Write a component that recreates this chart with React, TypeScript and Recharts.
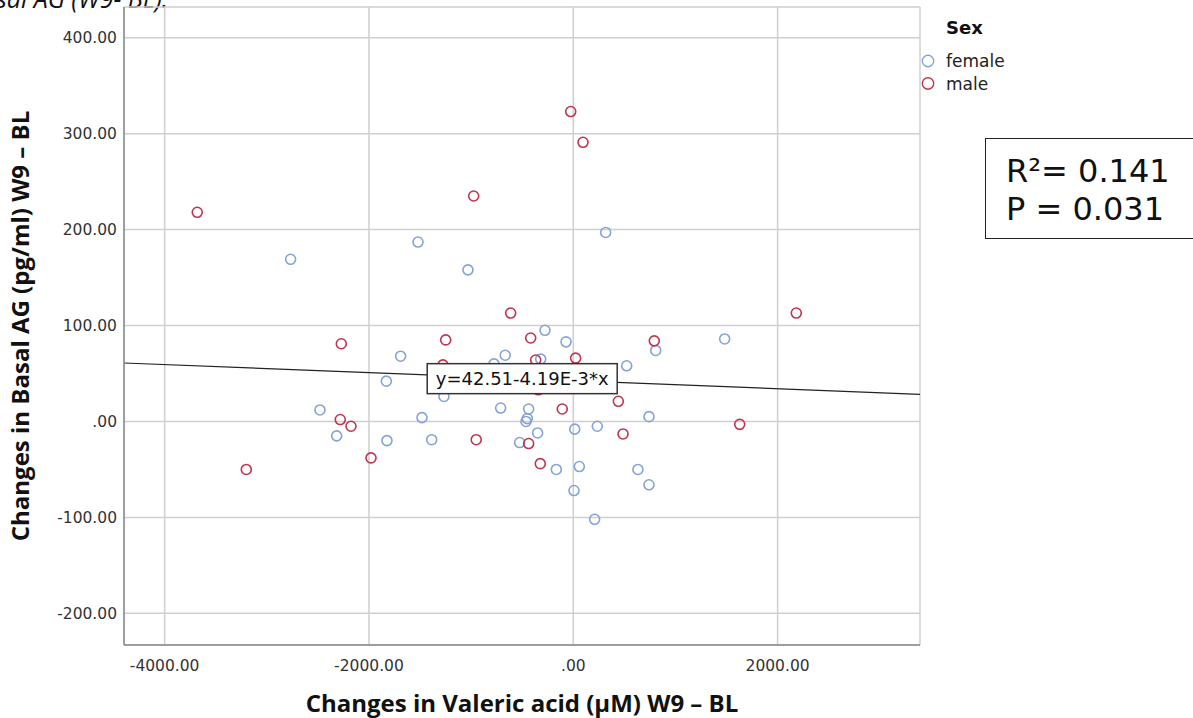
import {
  ReferenceDot,
  ReferenceLine,
  Scatter,
  ScatterChart,
  CartesianGrid,
  Label,
  XAxis,
  YAxis
} from "recharts";

const femaleX = [-2767, -1520, -1031, 317, 1482, -277, -71, 807, -1690, -666, -776, -319, 523, -1830, -1266, -2480, -711, -437, -1481, 741, -450, -463, -2316, -1824, -1386, -525, 14, 235, -349, -166, 59, 633, 741, 7, 209];
const femaleY = [169, 187, 158, 197, 86, 95, 83, 74, 68, 69, 60, 65, 58, 42, 26, 12, 14, 13, 4, 5, 3, 0, -15, -20, -19, -22, -8, -5, -12, -50, -47, -50, -66, -72, -102];

const maleX = [-3681, -975, -25, 95, -613, 2183, -2271, -1249, -417, 793, -368, 23, -1276, -343, 441, -108, -2281, -2176, 1629, 487, -950, -437, -323, -1980, -3201];
const maleY = [218, 235, 323, 291, 113, 113, 81, 85, 87, 84, 64, 66, 59, 33, 21, 13, 2, -5, -3, -13, -19, -23, -44, -38, -50];

const xTicks = [-4000, -2000, 0, 2000];
const yTicks = [-200, -100, 0, 100, 200, 300, 400];
const xDomain = [-4398, 3394];
const yDomain = [-233, 432];

// fit line from the chart's own label
const intercept = 42.51;
const slope = -4.19e-3;
const fitLabel = "y=42.51-4.19E-3*x";
const fitLabelAt = -500;

const sexes = ["female", "male"];
const colors = ["#86a3d6", "#c0344f"];

const female = femaleX.map((x, i) => ({ x, y: femaleY[i] }));
const male = maleX.map((x, i) => ({ x, y: maleY[i] }));

function tickText(v: number) {
  return v === 0 ? ".00" : v.toFixed(2);
}

function ring(color: string) {
  return (props: any) => (
    <circle cx={props.cx} cy={props.cy} r={5} fill="none" stroke={color} strokeWidth={1.6} />
  );
}

function LegendBox() {
  return (
    <svg width={120} height={100} style={{ position: "absolute", left: 910, top: 0 }}>
      <text x={36} y={34} fontSize={18} fontWeight={700} fill="#111">Sex</text>
      {sexes.map((s, i) => (
        <g key={s}>
          <circle cx={18} cy={61 + i * 22.5} r={5.7} fill="none" stroke={colors[i]} strokeWidth={1.4} />
          <text x={36} y={67 + i * 22.5} fontSize={17} fill="#222">{s}</text>
        </g>
      ))}
    </svg>
  );
}

function FitTag(props: any) {
  const w = 190;
  const h = 30;
  return (
    <g>
      <rect x={props.cx - w / 2} y={props.cy - h / 2} width={w} height={h} fill="#fff" stroke="#333" strokeWidth={1.5} />
      <text x={props.cx} y={props.cy + 6.5} textAnchor="middle" fontSize={18} fill="#111">{fitLabel}</text>
    </g>
  );
}

export default function App() {
  const font = "'DejaVu Sans', Verdana, sans-serif";
  return (
    <div style={{ position: "absolute", left: 0, top: 0, width: 1193, height: 718, background: "#fff", overflow: "hidden", fontFamily: font }}>
      <svg width={260} height={14} style={{ position: "absolute", left: 0, top: 0 }}>
        <text x={-4} y={8} fontSize={25} fontStyle="italic" fontFamily="'Open Sans', sans-serif" fill="#111">sal AG (W9- BL).</text>
      </svg>

      <ScatterChart width={1193} height={718} margin={{ top: 7, right: 273, bottom: 43, left: 14 }} style={{ fontFamily: font }}>
        <CartesianGrid stroke="#cfcfcf" strokeWidth={1.5} />
        <XAxis
          type="number"
          dataKey="x"
          domain={xDomain}
          ticks={xTicks}
          tickFormatter={tickText}
          allowDataOverflow
          height={30}
          tickLine={false}
          tickMargin={9}
          axisLine={{ stroke: "#8a8a8a", strokeWidth: 1.5 }}
          tick={{ fontSize: 15.5, fill: "#333" }}
        >
          <Label
            content={(p: any) => (
              <text x={p.viewBox.x + p.viewBox.width / 2} y={712} textAnchor="middle" fontSize={24} fontWeight={700} fontFamily="'Open Sans', sans-serif" fill="#111">
                Changes in Valeric acid (µM) W9 – BL
              </text>
            )}
          />
        </XAxis>
        <YAxis
          type="number"
          dataKey="y"
          domain={yDomain}
          ticks={yTicks}
          tickFormatter={tickText}
          allowDataOverflow
          width={110}
          tickLine={false}
          tickMargin={1}
          axisLine={{ stroke: "#8a8a8a", strokeWidth: 1.5 }}
          tick={{ fontSize: 15.5, fill: "#333" }}
        >
          <Label
            content={(p: any) => {
              const cy = p.viewBox.y + p.viewBox.height / 2;
              return (
                <text x={29} y={cy} transform={`rotate(-90, 29, ${cy})`} textAnchor="middle" fontSize={24} fontWeight={700} fontFamily="'Open Sans', sans-serif" fill="#111">
                  Changes in Basal AG (pg/ml) W9 – BL
                </text>
              );
            }}
          />
        </YAxis>
        <Scatter name="female" data={female} shape={ring(colors[0])} isAnimationActive={false} />
        <Scatter name="male" data={male} shape={ring(colors[1])} isAnimationActive={false} />
        <ReferenceLine
          segment={[
            { x: xDomain[0], y: intercept + slope * xDomain[0] },
            { x: xDomain[1], y: intercept + slope * xDomain[1] }
          ]}
          stroke="#222"
          strokeWidth={1.2}
        />
        <ReferenceDot x={fitLabelAt} y={intercept + slope * fitLabelAt} shape={FitTag} />
      </ScatterChart>

      <LegendBox />

      <div style={{ position: "absolute", left: 985, top: 138, width: 220, height: 101, boxSizing: "border-box", border: "1.5px solid #222", background: "#fff" }}>
        <svg width={220} height={101} style={{ position: "absolute", left: -1.5, top: -1.5 }}>
          <text x={21} y={44} fontSize={32} fill="#111">R²= 0.141</text>
          <text x={21} y={82} fontSize={32} fill="#111">P = 0.031</text>
        </svg>
      </div>
    </div>
  );
}
